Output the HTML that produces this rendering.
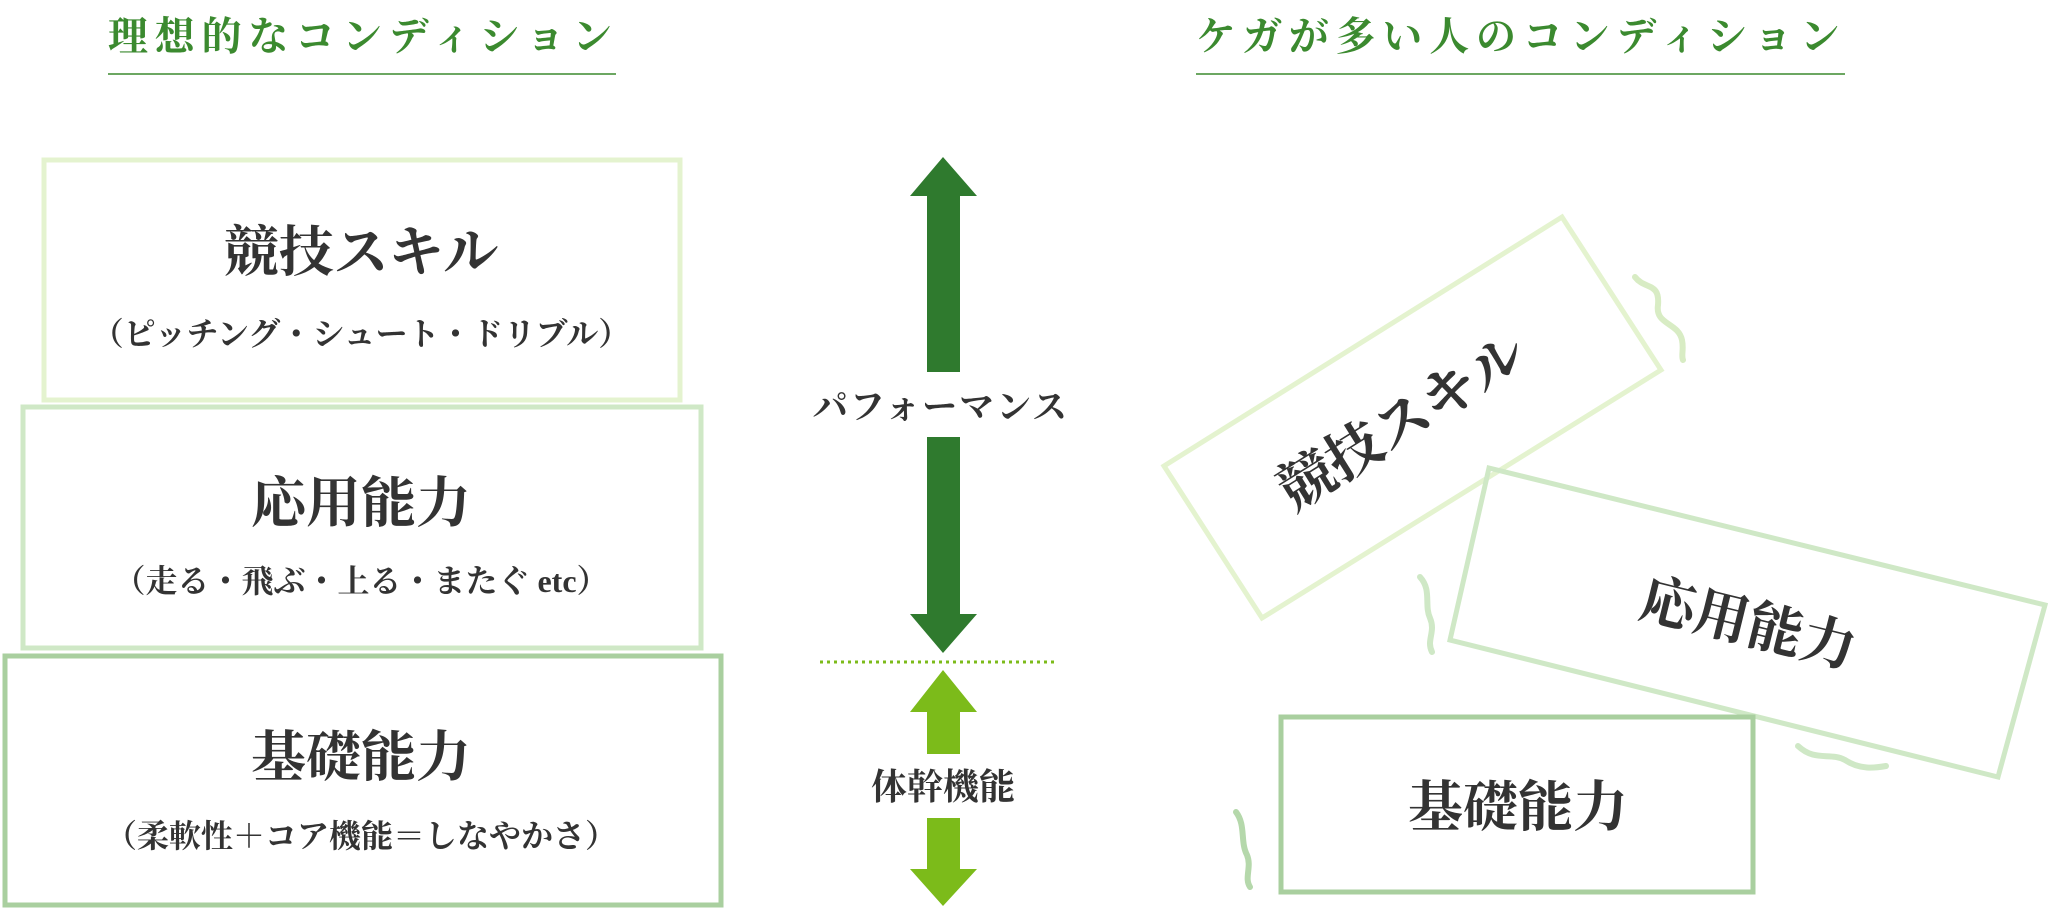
<!DOCTYPE html>
<html><head><meta charset="utf-8"><style>
html,body{margin:0;padding:0;background:#fff;}
svg{display:block;}
text{font-family:"Liberation Serif","Noto Serif CJK SC",serif;}
</style></head><body>
<svg width="2048" height="909" viewBox="0 0 2048 909" xmlns="http://www.w3.org/2000/svg">
<!-- Left title -->
<text x="108" y="50" font-size="40" font-weight="bold" fill="#3b8a2f" letter-spacing="6.8">理想的なコンディション</text>
<line x1="108" y1="74" x2="616" y2="74" stroke="#3b8a2f" stroke-width="1.5"/>
<!-- Right title -->
<text x="1196" y="50" font-size="40" font-weight="bold" fill="#3b8a2f" letter-spacing="6.8">ケガが多い人のコンディション</text>
<line x1="1196" y1="74" x2="1845" y2="74" stroke="#3b8a2f" stroke-width="1.5"/>

<!-- Left boxes -->
<rect x="44" y="160" width="636" height="240" fill="none" stroke="#e4f3cf" stroke-width="5"/>
<rect x="23" y="407" width="678" height="241" fill="none" stroke="#cfe8c6" stroke-width="5"/>
<rect x="5" y="656" width="716" height="249" fill="none" stroke="#a9cf9f" stroke-width="5"/>

<g fill="#333" font-weight="bold" text-anchor="middle">
<text x="361" y="271" font-size="55">競技スキル</text>
<text x="361" y="345" font-size="32">（ピッチング・シュート・ドリブル）</text>
<text x="361" y="522" font-size="55">応用能力</text>
<text x="361" y="592" font-size="32">（走る・飛ぶ・上る・またぐ etc）</text>
<text x="361" y="776" font-size="55">基礎能力</text>
<text x="361" y="847" font-size="32">（柔軟性＋コア機能＝しなやかさ）</text>
</g>

<!-- Center arrows -->
<polygon points="943,157 977,196 960,196 960,372 927,372 927,196 910,196" fill="#2f7a2e"/>
<polygon points="927,437 960,437 960,614 977,614 943,653 910,614 927,614" fill="#2f7a2e"/>
<text x="941" y="419" font-size="35" font-weight="bold" fill="#333" text-anchor="middle" letter-spacing="2">パフォーマンス</text>
<line x1="820" y1="662" x2="1058" y2="662" stroke="#7cbb1a" stroke-width="3" stroke-dasharray="3,4"/>
<polygon points="943,670 977,712 960,712 960,754 927,754 927,712 910,712" fill="#7cbb1a"/>
<polygon points="927,818 960,818 960,869 977,869 943,906 910,869 927,869" fill="#7cbb1a"/>
<text x="943" y="799" font-size="36" font-weight="bold" fill="#333" text-anchor="middle">体幹機能</text>

<!-- Right rotated boxes -->
<polygon points="1164,466 1562,217 1661,370 1262,618" fill="#fff" stroke="#e4f3cf" stroke-width="5"/>
<text x="0" y="0" font-size="56" font-weight="bold" fill="#333" text-anchor="middle" transform="translate(1412,438) rotate(-32)">競技スキル</text>
<polygon points="1489,468 2045,605 1998,777 1450,640" fill="none" stroke="#cfe8c6" stroke-width="5"/>
<text x="0" y="0" font-size="55" font-weight="bold" fill="#333" text-anchor="middle" transform="translate(1744,642) rotate(13.8)">応用能力</text>
<rect x="1281" y="717" width="472" height="175" fill="#fff" stroke="#a9cf9f" stroke-width="5"/>
<text x="1518" y="826" font-size="55" font-weight="bold" fill="#333" text-anchor="middle">基礎能力</text>

<!-- Squiggles -->
<g fill="none" stroke-width="6" stroke-linecap="round">
<path d="M1635,277 C1645,290 1660,282 1658,305 C1655,325 1678,322 1682,340 C1684,350 1681,355 1683,360" stroke="#d8ecc4"/>
<path d="M1420,577 C1432,590 1424,605 1430,618 C1436,632 1426,640 1432,652" stroke="#cfe8c6"/>
<path d="M1798,746 C1815,762 1830,752 1845,760 C1860,770 1875,768 1886,766" stroke="#cfe8c6"/>
<path d="M1236,812 C1246,825 1240,842 1247,855 C1252,867 1244,878 1250,887" stroke="#b5d8ab"/>
</g>
</svg>
</body></html>
